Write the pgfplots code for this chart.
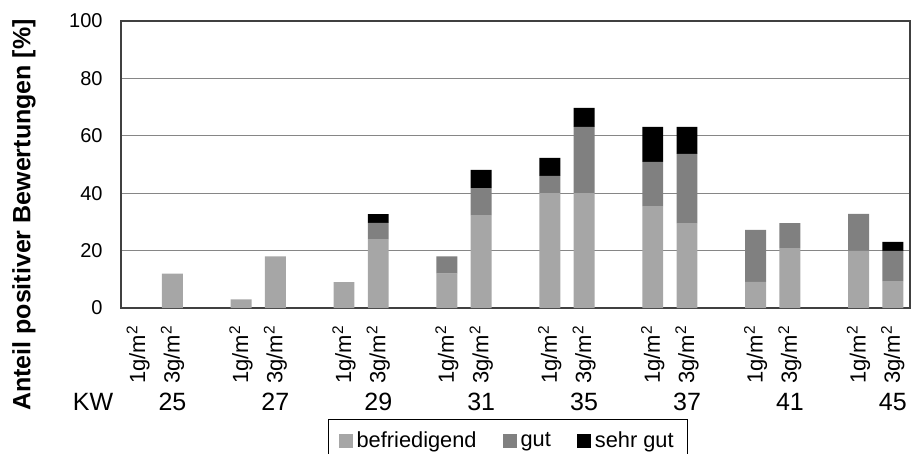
\documentclass[border=0pt]{standalone}
\usepackage{pgfplots}
\pgfplotsset{compat=1.18}
\usepackage{fontspec}
\setmainfont{Liberation Sans}
\definecolor{befc}{RGB}{166,166,166}
\definecolor{gutc}{RGB}{128,128,128}
\definecolor{framec}{RGB}{64,64,64}
\definecolor{gridc}{RGB}{134,134,134}
\tikzset{kw/.style={font=\fontsize{12.5bp}{14bp}\selectfont, yshift=-47bp}}
\newcommand{\ga}{1g/m\textsuperscript{2}}
\newcommand{\gb}{3g/m\textsuperscript{2}}
\begin{document}
\begin{tikzpicture}
\begin{axis}[
  at={(0,0)}, anchor=south west,
  width=394.5bp, height=143.5bp, scale only axis,
  ybar stacked, bar width=0.61,
  xmin=-0.5, xmax=22.5, ymin=0, ymax=100,
  ytick={0,20,...,100},
  xtick={0,1,3,4,6,7,9,10,12,13,15,16,18,19,21,22},
  xticklabels={\ga,\gb,\ga,\gb,\ga,\gb,\ga,\gb,\ga,\gb,\ga,\gb,\ga,\gb,\ga,\gb},
  major tick length=0pt,
  ymajorgrids, grid style={gridc, line width=0.6bp},
  axis line style={framec, line width=1bp},
  clip=false,
  /pgf/number format/assume math mode=true,
  yticklabel style={font=\fontsize{10bp}{12bp}\selectfont, anchor=east, inner sep=0pt, xshift=-9bp},
  xticklabel style={font=\fontsize{11bp}{12bp}\selectfont, yshift=-8.5bp, rotate=90, anchor=east, inner sep=0pt},
  legend columns=3,
  legend image code/.code={\fill[#1] (0bp,-3.5bp) rectangle (7bp,3.5bp);},
  legend style={at={(axis description cs:0.2624,-0.387)}, anchor=north west,
    draw=black, line width=0.6bp, font=\fontsize{10.9bp}{12bp}\selectfont,
    inner xsep=5bp, inner ysep=4bp,
    /tikz/every even column/.append style={column sep=11bp}},
]
\addplot[fill=befc, draw=none] coordinates {
 (0,0) (1,12) (3,3) (4,18) (6,9) (7,24) (9,12) (10,32.4) (12,40) (13,40)
 (15,35.5) (16,29.6) (18,9.1) (19,20.9) (21,19.9) (22,9.4)};
\addplot[fill=gutc, draw=none] coordinates {
 (0,0) (1,0) (3,0) (4,0) (6,0) (7,5.7) (9,6) (10,9.4) (12,6) (13,23.1)
 (15,15.4) (16,24.1) (18,18.1) (19,8.7) (21,12.9) (22,10.5)};
\addplot[fill=black, draw=none] coordinates {
 (0,0) (1,0) (3,0) (4,0) (6,0) (7,3) (9,0) (10,6.3) (12,6.3) (13,6.6)
 (15,12.2) (16,9.4) (18,0) (19,0) (21,0) (22,3.1)};
\legend{befriedigend, gut, sehr gut}
\node[kw] at (axis cs:1,0) {25};
\node[kw] at (axis cs:4,0) {27};
\node[kw] at (axis cs:7,0) {29};
\node[kw] at (axis cs:10,0) {31};
\node[kw] at (axis cs:13,0) {35};
\node[kw] at (axis cs:16,0) {37};
\node[kw] at (axis cs:19,0) {41};
\node[kw] at (axis cs:22,0) {45};
\node[kw, xshift=-14bp] at (axis description cs:0,0) {KW};
\end{axis}
\node[rotate=90, font=\fontsize{12.5bp}{14bp}\selectfont\bfseries] at (-48.5bp,46.5bp) {Anteil positiver Bewertungen [\%]};
\pgfresetboundingbox
\path[use as bounding box] (-60.5bp,-73bp) rectangle (396bp,154bp);
\end{tikzpicture}
\end{document}
